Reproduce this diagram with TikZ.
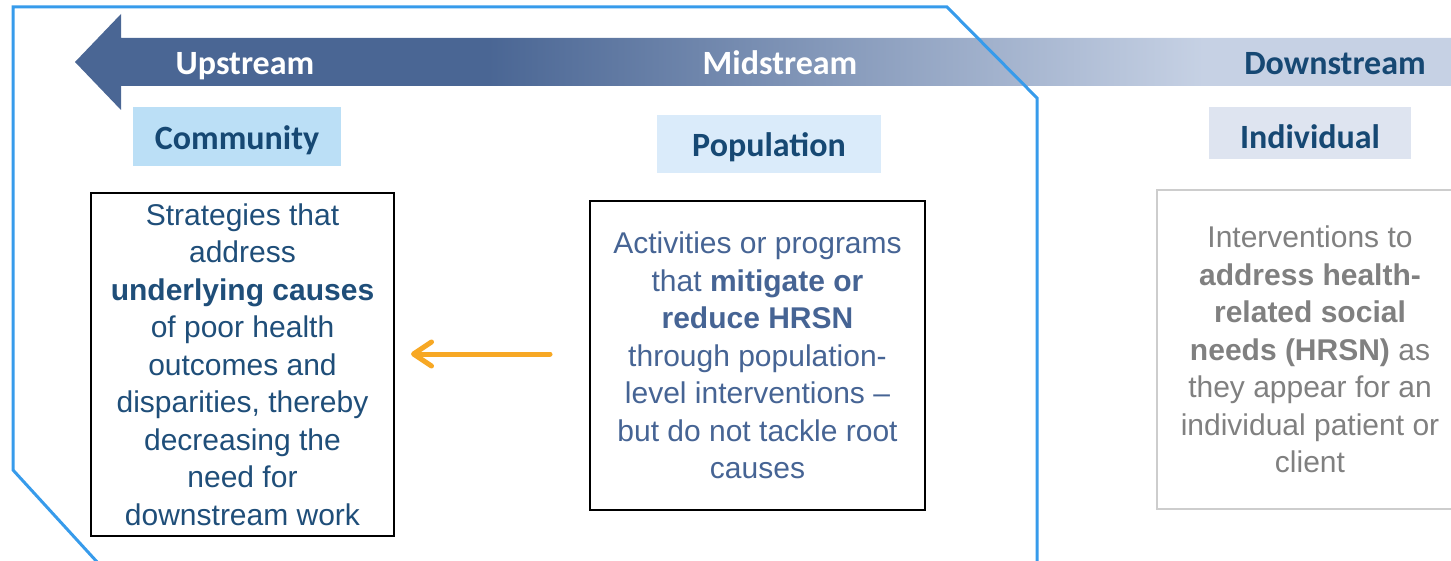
\documentclass[tikz,border=0pt]{standalone}
\usepackage{fontspec}
\setmainfont{Liberation Sans}
\newfontfamily\headfont{Carlito}
\usetikzlibrary{arrows.meta,calc}

\definecolor{streamdark}{RGB}{74,102,148}
\definecolor{streamlight}{RGB}{198,209,228}
\definecolor{headblue}{RGB}{22,72,115}
\definecolor{commblue}{RGB}{31,78,121}
\definecolor{popblue}{RGB}{70,100,148}
\definecolor{indgray}{RGB}{128,128,128}
\definecolor{framegray}{RGB}{205,205,205}
\definecolor{outlineblue}{RGB}{55,155,235}
\definecolor{arroworange}{RGB}{247,168,36}
\definecolor{commfill}{RGB}{187,223,246}
\definecolor{popfill}{RGB}{218,235,250}
\definecolor{indfill}{RGB}{222,228,240}

\pgfdeclarehorizontalshading{streamshade}{100bp}{color(0bp)=(streamdark); color(40bp)=(streamdark); color(66bp)=(streamlight); color(100bp)=(streamlight)}

\tikzset{
  streamlabel/.style={anchor=base, font=\headfont\bfseries\fontsize{34}{40}\selectfont},
  headbox/.style={inner sep=0pt, text height=22pt, text depth=0pt, text=headblue,
    font=\headfont\bfseries\fontsize{34}{40}\selectfont},
  bodybox/.style={draw, line width=2pt, align=center, inner sep=0pt,
    font=\fontsize{30}{37.5}\selectfont}
}

\begin{document}
\begin{tikzpicture}[x=1pt,y=-1pt]
  \clip (0,0) rectangle (1451,561);
  % stream arrow
  \shade[shading=streamshade] (75,62) -- (121,14) -- (121,38) -- (1451,38)
    -- (1451,86) -- (121,86) -- (121,110) -- cycle;
  \node[streamlabel, text=white] (up) at (245,75) {Upstream};
  \node[streamlabel, text=white] (mid) at (780,75) {Midstream};
  \node[streamlabel, text=headblue] (down) at (1335,75) {Downstream};
  % level headers
  \node[headbox, fill=commfill, minimum width=208pt, minimum height=59pt] (comm) at (237,136.5) {\raisebox{-2pt}{Community}};
  \node[headbox, fill=popfill, minimum width=224pt, minimum height=58pt] (pop) at (769,144) {\raisebox{-2pt}{Population}};
  \node[headbox, fill=indfill, minimum width=202pt, minimum height=52pt] (ind) at (1310,133) {\raisebox{-5pt}{Individual}};
  % descriptions
  \node[bodybox, text=commblue, minimum width=303pt, minimum height=343pt] (commtext) at (242.5,364.5)
    {Strategies that\\address\\\textbf{underlying causes}\\of poor health\\outcomes and\\disparities, thereby\\decreasing the\\need for\\downstream work};
  \node[bodybox, text=popblue, minimum width=335pt, minimum height=309pt] (poptext) at (757.5,355.5)
    {Activities or programs\\that \textbf{mitigate or}\\\textbf{reduce HRSN}\\through population-\\level interventions --\\but do not tackle root\\causes};
  \node[bodybox, draw=framegray, text=indgray, minimum width=306pt, minimum height=319pt] (indtext) at (1310,349.5)
    {Interventions to\\\textbf{address health-}\\\textbf{related social}\\\textbf{needs (HRSN)} as\\they appear for an\\individual patient or\\client};
  % upstream outline
  \draw[outlineblue, line width=3pt] (1037,575) -- (1037,98) -- (947,7) -- (13,7) -- (13,470) -- (109,575);
  \draw[arroworange, line width=5pt, line cap=round, -{Straight Barb[length=18pt,width=24pt,round]}]
    ($(poptext.west)+(-39,-1.5)$) -- ($(commtext.east |- poptext.west)+(16,-1.5)$);
\end{tikzpicture}
\end{document}
